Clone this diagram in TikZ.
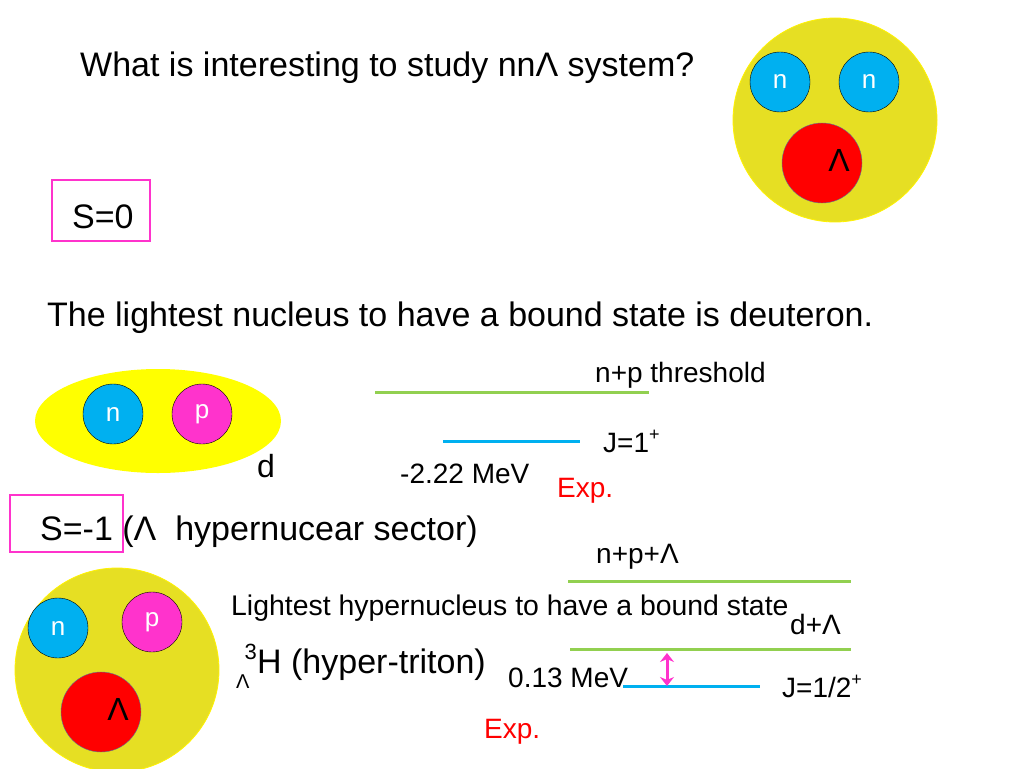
\documentclass[tikz,border=0pt]{standalone}
\usepackage{fontspec}
\setmainfont{Liberation Sans}
\usetikzlibrary{arrows.meta}
\definecolor{nucyellow}{RGB}{230,223,35}
\definecolor{dyellow}{RGB}{255,255,0}
\definecolor{ncyan}{RGB}{0,176,240}
\definecolor{pmagenta}{RGB}{255,51,204}
\definecolor{lgreen}{RGB}{146,208,80}
\definecolor{rimblue}{RGB}{90,120,150}
\def\fs#1{\fontsize{#1}{#1}\selectfont}
\def\sups#1{\raisebox{0.75ex}{\fs{18}#1}}

\begin{document}
\begin{tikzpicture}[x=1pt,y=-1pt,
	nucleon/.style={circle,draw=black,thin,minimum size=60pt,inner sep=0pt,text=white,font=\fs{26}},
	hyperon/.style={circle,draw=rimblue,thin,fill=red,minimum size=80pt,inner sep=0pt},
	lbl/.style={anchor=base west,inner sep=0pt,font=\fs{28}},
	big/.style={anchor=base west,inner sep=0pt,font=\fs{34}},
	level/.style={line width=3pt}]
	\useasboundingbox (0,0) rectangle (1024,768);
	\node[big] (title) at (80,77) {What is interesting to study nnΛ system?};
	% nn-Lambda
	\fill[nucyellow,draw=yellow,thick] (835,120) circle [radius=102];
	\node[nucleon,fill=ncyan] (n1) at (780,82) {n};
	\node[nucleon,fill=ncyan] (n2) at (869,82) {n};
	\node[hyperon] (L1) at (822,163) {};
	\node[font=\fs{32},inner sep=0pt] (L1t) at ([xshift=17pt,yshift=3pt]L1.center) {Λ};
	% S=0
	\node[draw=pmagenta,line width=2pt,minimum width=98pt,minimum height=61pt] (s0) at (101,210.5) {};
	\node[big] (s0t) at (72,228) {S=0};
	\node[big] (deut) at (47,326) {The lightest nucleus to have a bound state is deuteron.};
	\fill[dyellow] (158,421) ellipse [x radius=123, y radius=52];
	\node[nucleon,fill=ncyan] (n3) at (113,414) {n};
	\node[nucleon,fill=pmagenta] (p3) at (202,414) {p};
	\node[big,font=\fs{32}] (d) at (257,477) {d};
	\draw[level,lgreen] (375,392) -- (649,392);
	\draw[level,ncyan] (443,441) -- (580,441);
	\node[lbl] (thr1) at (595,382) {n+p threshold};
	\node[lbl] (j1) at (603,452) {J=1\sups{+}};
	\node[lbl] (e1) at (400,483) {-2.22 MeV};
	\node[lbl,text=red] (exp1) at (557,497) {Exp.};
	% S=-1
	\node[draw=pmagenta,line width=2pt,minimum width=113pt,minimum height=57pt] (s1) at (66,523.5) {};
	\node[big] (s1t) at (40,540) {S=-1 (Λ\ \ hypernucear sector)};
	\fill[nucyellow,draw=yellow,thick] (117,670) circle [radius=102];
	\node[nucleon,fill=ncyan] (n4) at (58,628) {n};
	\node[nucleon,fill=pmagenta] (p4) at (152,622) {p};
	\node[hyperon] (L2) at (101,712) {};
	\node[font=\fs{32},inner sep=0pt] (L2t) at ([xshift=17pt,yshift=3pt]L2.center) {Λ};
	\node[lbl] (thr2) at (596,563) {n+p+Λ};
	\draw[level,lgreen] (568,581) -- (851,581);
	\node[lbl,font=\fs{28.4}] (light) at (231,615) {Lightest hypernucleus to have a bound state};
	\node[lbl] (dl) at (790,634) {d+Λ};
	\draw[level,lgreen] (570,649) -- (851,649);
	\node[big] (hyt) at (257,673) {H (hyper-triton)};
	\node[anchor=base east,inner sep=0pt,font=\fs{22}] (hyt3) at (hyt.base west) [yshift=14pt] {3};
	\node[anchor=base west,inner sep=0pt,font=\fs{20}] (hytL) at (236,688) {Λ};
	\node[lbl] (e2) at (508,687) {0.13 MeV};
	\draw[level,ncyan] (623,686) -- (760,686);
	\coordinate (up) at (667,653);
	\coordinate (down) at (667,686);
	\draw[pmagenta,line width=3pt,{Stealth[length=9pt,width=14pt]}-{Stealth[length=9pt,width=14pt]}] (up) -- (down);
	\node[lbl] (j2) at (782,697) {J=1/2\sups{+}};
	\node[lbl,text=red] (exp2) at (484,738) {Exp.};
\end{tikzpicture}
\end{document}
